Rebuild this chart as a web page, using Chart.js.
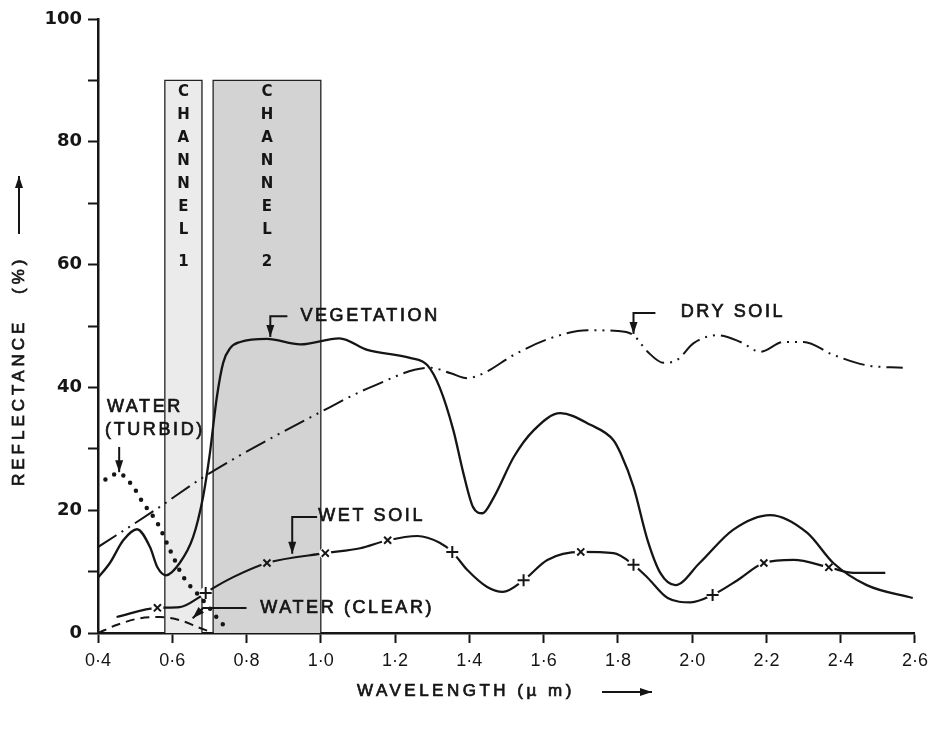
<!DOCTYPE html>
<html><head><meta charset="utf-8">
<script src="https://cdn.jsdelivr.net/npm/chart.js@4.4.1/dist/chart.umd.min.js"></script>
<style>html,body{margin:0;padding:0;background:#fff;}#wrap{width:935px;height:732px;}</style>
</head><body><div id="wrap"><canvas id="c" width="935" height="732"></canvas></div>
<script>
// ---- data (wavelength in µm, reflectance in %) ----
const xTicks = [0.4,0.6,0.8,1.0,1.2,1.4,1.6,1.8,2.0,2.2,2.4,2.6];
const yTicks = [0,20,40,60,80,100];

const vegX = [0.40,0.432,0.468,0.505,0.54,0.56,0.583,0.62,0.656,0.683,0.70,0.72,0.737,0.756,0.783,0.855,0.945,1.05,1.125,1.24,1.287,1.32,1.357,1.384,1.41,1.435,1.465,1.52,1.573,1.645,1.726,1.788,1.807,1.842,1.88,1.915,1.955,2.02,2.11,2.21,2.31,2.38,2.47,2.594];
const vegY = [9.0,11.4,15.1,16.9,14.0,10.7,9.4,11.4,15.6,22.2,28.7,38.4,44.0,46.4,47.4,47.9,47.0,48.0,46.1,44.8,43.6,40.0,33.0,26.0,20.5,19.5,22.0,28.7,33.0,35.8,33.9,31.4,29.3,23.8,15.1,9.7,7.8,11.4,16.8,19.2,16.3,11.4,7.8,5.7];

const drySoilX = [0.40,0.548,0.70,1.0,1.133,1.295,1.35,1.394,1.438,1.52,1.618,1.718,1.80,1.842,1.88,1.923,1.96,2.004,2.068,2.13,2.184,2.246,2.30,2.38,2.47,2.567];
const drySoilY = [14.0,19.8,26.0,36.0,40.0,43.2,42.3,41.5,42.3,45.3,48.0,49.3,49.2,48.5,45.8,44.0,44.5,47.2,48.5,47.4,45.8,47.4,47.4,45.3,43.6,43.2];

const wetSoilX = [0.45,0.56,0.62,0.675,0.69,0.71,0.764,0.855,1.012,1.106,1.18,1.26,1.32,1.354,1.394,1.448,1.49,1.546,1.61,1.70,1.788,1.842,1.88,1.934,1.996,2.055,2.122,2.193,2.273,2.368,2.435,2.52];
const wetSoilY = [2.6,4.1,4.2,5.9,6.5,7.3,9.1,11.4,13.0,13.8,15.1,15.8,14.7,13.2,10.3,7.5,6.7,8.6,11.9,13.2,13.0,11.1,9.0,5.7,5.0,6.2,8.6,11.4,11.9,10.7,9.8,9.8];
const wetCrossX = [0.56,0.855,1.012,1.18,1.70,2.193,2.368];
const wetCrossY = [4.1,11.4,13.0,15.1,13.2,11.4,10.7];
const wetPlusX = [0.69,1.354,1.546,1.842,2.055];
const wetPlusY = [6.5,13.2,8.6,11.1,6.2];

const turbidX = [0.42,0.455,0.495,0.52,0.56,0.594,0.63,0.675,0.70,0.73,0.755];
const turbidY = [25.0,26.0,23.8,21.3,17.9,13.5,9.1,5.9,4.1,1.8,0.3];

const clearX = [0.40,0.45,0.513,0.567,0.62,0.667,0.71];
const clearY = [0.0,1.3,2.4,2.6,2.1,1.0,0.0];

const channelNames = ['1','2'];
const channelStart = [0.58,0.71];
const channelEnd = [0.68,1.0];
const channelTop = 90;

// ---- helpers ----
const pts = (xs, ys) => xs.map((x, i) => ({x, y: ys[i]}));
const box = (a, b) => [{x:a,y:0},{x:a,y:channelTop},{x:b,y:channelTop},{x:b,y:0}];
const INK = '#151515';
const bgAt = v => {
  if (v >= channelStart[1] && v <= channelEnd[1]) return '#d3d3d3';
  if (v >= channelStart[0] && v <= channelEnd[0]) return '#ebebeb';
  return '#ffffff';
};

const curve = (label, xs, ys, extra) => Object.assign({
  label, data: pts(xs, ys), showLine: true, borderColor: INK, borderWidth: 2.2,
  pointRadius: 0, cubicInterpolationMode: 'monotone', fill: false
}, extra);

// annotation texts (data coordinates)
const labels = [
  {text:'VEGETATION', x:0.945, y:51.7},
  {text:'DRY SOIL', x:1.969, y:52.3},
  {text:'WET SOIL', x:0.993, y:19.0},
  {text:'WATER (CLEAR)', x:0.837, y:4.1},
  {text:'WATER', x:0.424, y:36.8},
  {text:'(TURBID)', x:0.419, y:33.1}
];
const arrows = [
  [[0.91,51.6],[0.864,51.6],[0.864,48.2]],
  [[1.901,52.1],[1.842,52.1],[1.842,48.7]],
  [[0.99,18.9],[0.923,18.9],[0.923,12.9]],
  [[0.80,4.07],[0.683,4.07],[0.655,2.4]],
  [[0.457,30.3],[0.457,26.2]]
];

function arrow(ctx, p) {
  ctx.beginPath();
  ctx.moveTo(p[0][0], p[0][1]);
  for (let i = 1; i < p.length; i++) ctx.lineTo(p[i][0], p[i][1]);
  ctx.stroke();
  const a = p[p.length-2], b = p[p.length-1];
  const ang = Math.atan2(b[1]-a[1], b[0]-a[0]);
  const L = 12, W = 4;
  ctx.beginPath();
  ctx.moveTo(b[0], b[1]);
  ctx.lineTo(b[0]-L*Math.cos(ang)+W*Math.sin(ang), b[1]-L*Math.sin(ang)-W*Math.cos(ang));
  ctx.lineTo(b[0]-L*Math.cos(ang)-W*Math.sin(ang), b[1]-L*Math.sin(ang)+W*Math.cos(ang));
  ctx.closePath();
  ctx.fill();
}

function boldText(ctx, t, x, y) {
  ctx.fillText(t, x, y);
  ctx.strokeText(t, x, y);
}

const annot = {
  id: 'annot',
  afterDraw(chart) {
    const {ctx, scales:{x, y}} = chart;
    const X = v => x.getPixelForValue(v), Y = v => y.getPixelForValue(v);
    ctx.save();
    ctx.fillStyle = INK; ctx.strokeStyle = INK;
    // channel letters
    ctx.font = 'bold 15px "DejaVu Sans"';
    ctx.textAlign = 'center'; ctx.textBaseline = 'middle';
    channelNames.forEach((n, i) => {
      const cx = X((channelStart[i] + channelEnd[i]) / 2);
      const word = 'CHANNEL';
      for (let k = 0; k < word.length; k++) ctx.fillText(word[k], cx, Y(88.1) + k * 23);
      ctx.fillText(n, cx, Y(60.4));
    });
    // curve labels
    ctx.font = '18px "Liberation Sans"';
    ctx.letterSpacing = '2.6px';
    ctx.lineWidth = 0.7;
    ctx.textAlign = 'left';
    labels.forEach(l => boldText(ctx, l.text, X(l.x), Y(l.y)));
    ctx.letterSpacing = '0px';
    // arrows
    ctx.lineWidth = 2;
    arrows.forEach(a => arrow(ctx, a.map(p => [X(p[0]), Y(p[1])])));
    // y title
    ctx.save();
    ctx.translate(19, 486);
    ctx.rotate(-Math.PI / 2);
    ctx.font = '17px "Liberation Sans"';
    ctx.letterSpacing = '4px';
    ctx.lineWidth = 0.7;
    ctx.textAlign = 'left'; ctx.textBaseline = 'middle';
    boldText(ctx, 'REFLECTANCE', 0, 0);
    boldText(ctx, '(%)', 192, 0);
    ctx.letterSpacing = '0px';
    ctx.lineWidth = 2;
    arrow(ctx, [[252, 0], [310, 0]]);
    ctx.restore();
    // x title
    ctx.font = '17px "Liberation Sans"';
    ctx.letterSpacing = '3.5px';
    ctx.lineWidth = 0.7;
    ctx.textAlign = 'left'; ctx.textBaseline = 'middle';
    boldText(ctx, 'WAVELENGTH (\u00B5 m)', 357, 691);
    ctx.letterSpacing = '0px';
    ctx.lineWidth = 2;
    arrow(ctx, [[602, 692], [652, 692]]);
    ctx.restore();
  }
};

const tickGrid = {drawOnChartArea: false, drawTicks: true, tickLength: 10, tickColor: INK, tickWidth: 2};

new Chart(document.getElementById('c'), {
  type: 'line',
  data: {datasets: [
    {label:'Channel 1', data: box(channelStart[0], channelEnd[0]), showLine:true, fill:'origin', backgroundColor:'#ebebeb', borderColor:'#222', borderWidth:1.3, pointRadius:0, tension:0, order:20},
    {label:'Channel 2', data: box(channelStart[1], channelEnd[1]), showLine:true, fill:'origin', backgroundColor:'#d3d3d3', borderColor:'#222', borderWidth:1.3, pointRadius:0, tension:0, order:19},
    curve('Dry soil', drySoilX, drySoilY, {borderWidth:2, borderDash:[22,6,2,6,2,6], order:9}),
    curve('Water (clear)', clearX, clearY, {borderWidth:2, borderDash:[9,6], order:8}),
    curve('Water (turbid)', turbidX, turbidY, {borderDash:[0,10], borderCapStyle:'round', borderWidth:4.5, order:7, clip:false}),
    curve('Wet soil', wetSoilX, wetSoilY, {order:6}),
    {label:'mask', data: pts(wetCrossX.concat(wetPlusX), wetCrossY.concat(wetPlusY)), showLine:false, pointRadius:6, pointBorderWidth:0, pointBackgroundColor: c => bgAt(c.raw.x), order:5},
    curve('Vegetation', vegX, vegY, {borderWidth:2.3, order:4}),
    {label:'wet x', data: pts(wetCrossX, wetCrossY), showLine:false, pointStyle:'crossRot', pointRadius:5, pointBorderColor:INK, pointBorderWidth:2, order:2},
    {label:'wet +', data: pts(wetPlusX, wetPlusY), showLine:false, pointStyle:'cross', pointRadius:6, pointBorderColor:INK, pointBorderWidth:2, order:1}
  ]},
  options: {
    responsive: false, animation: false, events: [],
    layout: {padding: {top: 19, right: 20, left: 0, bottom: 0}},
    plugins: {legend: {display: false}, tooltip: {enabled: false}},
    scales: {
      x: {
        type: 'linear', min: xTicks[0], max: xTicks[xTicks.length-1],
        afterBuildTicks: s => { s.ticks = xTicks.map(v => ({value: v})); },
        ticks: {callback: v => v.toFixed(1).replace('.', '\u00B7'), font: {family: 'Liberation Sans', size: 18}, color: INK, padding: 7, maxRotation: 0, autoSkip: false},
        grid: tickGrid, border: {color: INK, width: 2.5},
        afterFit: s => { s.height = 99; }
      },
      y: {
        min: yTicks[0], max: yTicks[yTicks.length-1],
        ticks: {stepSize: 10, callback: v => (yTicks.includes(v) ? String(v) : ''), font: {family: 'DejaVu Sans', size: 18, weight: 'bold'}, color: INK, padding: 6},
        grid: tickGrid, border: {color: INK, width: 2.5},
        afterFit: s => { s.width = 98; }
      }
    }
  },
  plugins: [annot]
});
</script>
</body></html>
